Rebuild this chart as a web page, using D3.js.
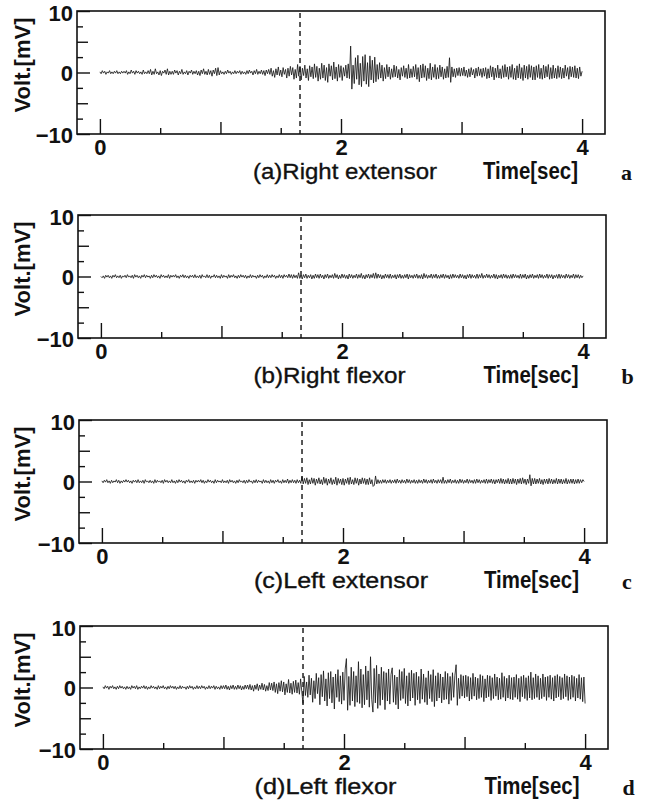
<!DOCTYPE html>
<html><head><meta charset="utf-8">
<script src="https://cdn.jsdelivr.net/npm/d3@7"></script>
<style>body{margin:0;background:#fff}svg{display:block}</style>
</head><body>
<svg id="chart" width="650" height="803"></svg>
<script>
// ---------- data ----------
const sampleStep = 0.01;           // seconds between samples
const onsetTime = 1.66;            // dashed marker [sec]
const xMajorTicks = [0, 2, 4];
const xMidTicks = [1, 3];
const xMinorTicks = [0.5, 1.5, 2.5, 3.5];
const yMajorTicks = [-10, 0, 10];
const yMidTicks = [-5, 5];
const yMinorTicks = [-7.5, -2.5, 2.5, 7.5];
const xTickLabels = ["0", "2", "4"];
const yTickLabels = ["−10", "0", "10"];
const panelCaptions = ["(a)Right extensor", "(b)Right flexor", "(c)Left extensor", "(d)Left flexor"];
const panelLetters = ["a", "b", "c", "d"];
const xTitle = "Time[sec]";
const yTitle = "Volt.[mV]";

const rightExtensor = [
0.1,-0.2,0.3,-0.1,0.2,-0.3,0.1,-0.1,0.3,-0.2,0.1,-0.2,0.2,-0.1,0.3,-0.2,0.1,-0.2,0.2,-0.1,
0.2,-0.1,0.3,-0.3,0.1,-0.2,0.4,-0.1,0.2,-0.3,0.3,-0.1,0.2,-0.2,0.1,-0.3,0.4,-0.2,0.1,-0.2,
0.3,-0.2,0.5,-0.4,0.2,-0.3,0.6,-0.2,0.1,-0.4,0.3,-0.5,0.2,-0.1,0.4,-0.3,0.6,-0.4,0.2,-0.3,
0.2,-0.3,0.4,-0.1,0.3,-0.4,0.2,-0.2,0.5,-0.3,0.1,-0.2,0.3,-0.4,0.2,-0.1,0.4,-0.3,0.2,-0.2,
0.3,-0.4,0.2,-0.5,0.4,-0.2,0.6,-0.3,0.2,-0.4,0.5,-0.3,0.3,-0.6,0.4,-0.2,0.7,-0.5,0.8,-0.4,
0.3,-0.2,0.1,-0.3,0.2,-0.2,0.4,-0.1,0.2,-0.3,0.1,-0.2,0.3,-0.2,0.2,-0.1,0.3,-0.3,0.2,-0.2,
0.1,-0.3,0.3,-0.2,0.4,-0.1,0.2,-0.4,0.3,-0.2,0.5,-0.3,0.2,-0.2,0.4,-0.3,0.3,-0.5,0.4,-0.2,
0.5,-0.3,0.7,-0.6,0.3,-0.8,0.6,-0.4,0.9,-0.5,0.4,-0.7,0.8,-0.3,0.5,-0.9,0.7,-0.6,1.0,-0.4,
0.8,-1.1,0.5,-0.9,1.3,-0.6,1.0,-1.2,0.7,-0.5,1.2,-0.9,0.6,-1.3,1.1,-0.7,0.9,-1.0,1.4,-0.8,
1.0,-1.4,0.7,-1.1,1.5,-0.9,1.2,-1.3,0.8,-1.6,1.4,-0.6,1.1,-1.2,1.7,-1.0,0.9,-1.4,1.3,-0.8,
1.1,-1.3,0.8,-0.6,1.2,-0.9,1.4,-1.0,4.3,-2.7,1.2,-1.8,2.4,-1.1,2.8,-2.0,1.5,-2.3,2.6,-1.4,
2.9,-1.9,1.6,-2.3,2.7,-1.2,2.0,-1.7,2.5,-1.5,1.3,-1.1,1.6,-0.9,1.2,-1.4,0.8,-1.0,1.3,-0.7,
0.9,-1.1,0.6,-0.8,1.2,-0.7,1.0,-0.9,0.5,-1.2,0.8,-0.6,1.1,-0.8,0.7,-1.0,1.3,-0.9,0.6,-0.8,
1.0,-0.7,1.3,-1.1,0.8,-1.5,1.2,-0.9,1.4,-0.8,1.1,-1.3,0.7,-1.0,1.5,-1.2,0.9,-0.8,1.3,-1.1,
0.8,-1.0,1.2,-0.7,0.9,-1.1,0.6,-0.9,1.0,-0.8,2.4,-1.6,0.9,-0.7,0.6,-0.8,0.7,-0.5,0.8,-0.6,
0.7,-0.5,0.9,-0.6,0.4,-0.8,0.6,-0.7,0.8,-0.4,0.5,-0.9,0.7,-0.6,0.9,-0.5,0.6,-0.8,0.7,-0.6,
0.8,-1.0,0.6,-0.9,1.1,-0.7,0.9,-1.2,0.7,-0.8,1.2,-0.9,0.6,-1.0,1.1,-0.8,1.3,-0.7,0.9,-1.1,
1.0,-0.8,1.3,-1.1,0.7,-1.2,1.1,-0.9,1.4,-1.0,0.8,-1.3,1.2,-0.9,1.0,-1.1,1.3,-0.8,1.1,-1.2,
0.9,-1.2,1.1,-0.8,1.3,-1.0,0.7,-1.1,1.2,-0.9,1.0,-0.7,1.3,-1.1,0.8,-1.0,1.2,-0.9,0.7,-1.0,
1.1,-0.8,0.9,-1.0,0.7,-0.9,1.2,-0.6,0.8,-1.1,1.0,-0.7,0.9,-0.8,1.1,-0.9,0.7,-1.0,0.9,-0.6,
0.2];

const rightFlexor = [
0.0,-0.2,0.1,-0.3,0.2,-0.1,0.2,-0.2,0.1,-0.3,0.2,-0.1,0.3,-0.2,0.1,-0.2,0.2,-0.3,0.1,-0.1,
0.2,-0.2,0.3,-0.1,0.1,-0.2,0.2,-0.3,0.3,-0.1,0.2,-0.2,0.1,-0.3,0.2,-0.1,0.3,-0.2,0.2,-0.1,
0.1,-0.3,0.2,-0.2,0.3,-0.1,0.2,-0.2,0.1,-0.3,0.3,-0.1,0.2,-0.2,0.1,-0.2,0.3,-0.3,0.2,-0.1,
0.2,-0.1,0.3,-0.2,0.1,-0.3,0.2,-0.1,0.3,-0.2,0.2,-0.2,0.1,-0.3,0.2,-0.1,0.2,-0.2,0.3,-0.2,
0.1,-0.2,0.2,-0.3,0.3,-0.1,0.1,-0.2,0.3,-0.2,0.2,-0.3,0.1,-0.1,0.3,-0.2,0.2,-0.2,0.1,-0.3,
0.3,-0.2,0.2,-0.1,0.1,-0.3,0.3,-0.2,0.2,-0.1,0.3,-0.2,0.1,-0.3,0.2,-0.2,0.3,-0.1,0.2,-0.2,
0.2,-0.3,0.1,-0.2,0.3,-0.2,0.2,-0.1,0.1,-0.3,0.2,-0.2,0.3,-0.1,0.2,-0.3,0.1,-0.2,0.3,-0.2,
0.2,-0.2,0.3,-0.1,0.2,-0.3,0.1,-0.2,0.3,-0.2,0.2,-0.3,0.3,-0.1,0.2,-0.2,0.4,-0.2,0.3,-0.3,
0.3,-0.2,0.2,-0.3,0.6,-0.3,0.2,-0.4,0.3,-0.2,0.4,-0.3,0.2,-0.2,0.3,-0.4,0.2,-0.3,0.4,-0.2,
0.3,-0.3,0.4,-0.2,0.2,-0.4,0.3,-0.2,0.4,-0.3,0.2,-0.2,0.3,-0.3,0.5,-0.2,0.3,-0.4,0.2,-0.3,
0.4,-0.2,0.3,-0.3,0.2,-0.4,0.4,-0.2,0.3,-0.3,0.2,-0.2,0.4,-0.3,0.3,-0.2,0.5,-0.3,0.2,-0.4,
0.3,-0.2,0.4,-0.3,0.3,-0.2,0.5,-0.3,0.6,-0.3,0.4,-0.2,0.3,-0.4,0.2,-0.3,0.4,-0.2,0.3,-0.3,
0.4,-0.3,0.2,-0.2,0.3,-0.4,0.3,-0.2,0.4,-0.3,0.2,-0.3,0.3,-0.2,0.4,-0.4,0.3,-0.2,0.2,-0.3,
0.3,-0.2,0.4,-0.3,0.2,-0.3,0.3,-0.4,0.5,-0.2,0.3,-0.3,0.2,-0.2,0.4,-0.3,0.3,-0.2,0.4,-0.3,
0.2,-0.3,0.3,-0.2,0.4,-0.3,0.3,-0.2,0.2,-0.4,0.3,-0.3,0.4,-0.2,0.3,-0.2,0.2,-0.3,0.4,-0.2,
0.3,-0.3,0.2,-0.4,0.3,-0.2,0.4,-0.3,0.3,-0.2,0.2,-0.3,0.4,-0.3,0.3,-0.2,0.5,-0.3,0.2,-0.2,
0.4,-0.2,0.3,-0.3,0.2,-0.2,0.4,-0.3,0.3,-0.4,0.2,-0.2,0.3,-0.3,0.4,-0.2,0.3,-0.3,0.2,-0.3,
0.3,-0.3,0.4,-0.2,0.3,-0.2,0.2,-0.3,0.4,-0.3,0.3,-0.2,0.4,-0.4,0.2,-0.3,0.3,-0.2,0.4,-0.3,
0.2,-0.2,0.3,-0.3,0.4,-0.2,0.3,-0.3,0.2,-0.2,0.4,-0.3,0.3,-0.2,0.3,-0.4,0.2,-0.2,0.3,-0.3,
0.4,-0.3,0.3,-0.2,0.2,-0.3,0.4,-0.2,0.3,-0.3,0.2,-0.2,0.4,-0.3,0.3,-0.2,0.3,-0.3,0.2,-0.2,
0.1];

const leftExtensor = [
0.1,-0.2,0.2,-0.1,0.3,-0.2,0.1,-0.3,0.2,-0.2,0.1,-0.1,0.3,-0.2,0.2,-0.3,0.1,-0.2,0.2,-0.1,
0.3,-0.1,0.2,-0.2,0.1,-0.3,0.2,-0.1,0.2,-0.2,0.3,-0.2,0.1,-0.2,0.2,-0.3,0.3,-0.1,0.1,-0.2,
0.2,-0.2,0.1,-0.3,0.3,-0.2,0.2,-0.1,0.1,-0.2,0.2,-0.3,0.3,-0.1,0.2,-0.2,0.1,-0.2,0.3,-0.2,
0.1,-0.3,0.2,-0.2,0.3,-0.1,0.2,-0.2,0.1,-0.3,0.2,-0.1,0.3,-0.2,0.1,-0.2,0.2,-0.3,0.2,-0.1,
0.2,-0.1,0.3,-0.2,0.2,-0.3,0.1,-0.2,0.3,-0.1,0.2,-0.2,0.1,-0.3,0.3,-0.2,0.2,-0.1,0.1,-0.2,
0.3,-0.2,0.1,-0.2,0.2,-0.3,0.3,-0.1,0.2,-0.2,0.1,-0.3,0.2,-0.2,0.3,-0.1,0.1,-0.2,0.2,-0.3,
0.2,-0.2,0.3,-0.1,0.1,-0.3,0.2,-0.2,0.3,-0.2,0.2,-0.1,0.1,-0.3,0.3,-0.2,0.2,-0.2,0.1,-0.3,
0.3,-0.2,0.2,-0.3,0.2,-0.1,0.3,-0.2,0.1,-0.3,0.3,-0.2,0.2,-0.2,0.4,-0.3,0.2,-0.2,0.3,-0.2,
0.2,-0.3,0.3,-0.2,0.2,-0.3,0.8,-0.4,0.5,-0.3,0.6,-0.5,0.3,-0.4,0.6,-0.3,0.5,-0.6,0.4,-0.3,
0.6,-0.4,0.3,-0.5,0.7,-0.3,0.5,-0.6,0.4,-0.3,0.6,-0.5,0.3,-0.4,0.7,-0.6,0.5,-0.3,0.4,-0.5,
0.5,-0.6,0.4,-0.3,0.6,-0.5,0.7,-0.4,0.3,-0.5,0.6,-0.3,0.5,-0.6,0.4,-0.4,0.6,-0.3,0.5,-0.5,
0.4,-0.5,0.6,-0.4,0.3,-0.8,-0.6,0.9,-0.4,0.3,-0.3,0.2,-0.3,0.3,-0.2,0.3,-0.3,0.2,-0.2,0.3,
-0.3,0.2,-0.2,0.3,-0.3,0.4,-0.2,0.2,-0.3,0.3,-0.2,0.2,-0.3,0.4,-0.2,0.3,-0.3,0.2,-0.2,0.3,
-0.3,0.2,-0.3,0.3,-0.2,0.2,-0.3,0.4,-0.2,0.3,-0.3,0.2,-0.2,0.3,-0.3,0.4,-0.2,0.2,-0.3,0.3,
-0.2,0.3,-0.3,0.7,-0.3,0.2,-0.3,0.3,-0.2,0.4,-0.3,0.2,-0.2,0.3,-0.3,0.2,-0.3,0.4,-0.2,0.3,
-0.3,0.2,-0.2,0.4,-0.3,0.3,-0.2,0.2,-0.3,0.3,-0.3,0.4,-0.2,0.3,-0.3,0.2,-0.2,0.3,-0.3,0.4,
-0.3,0.3,-0.2,0.4,-0.3,0.3,-0.4,0.3,-0.2,0.4,-0.3,0.5,-0.3,0.4,-0.4,0.3,-0.3,0.5,-0.4,0.4,
-0.4,0.5,-0.3,0.4,-0.5,0.4,-0.3,0.5,-0.4,0.6,-0.3,0.4,-0.5,0.4,-0.3,1.1,-0.7,0.5,-0.4,0.5,
-0.4,0.4,-0.3,0.5,-0.4,0.3,-0.5,0.4,-0.3,0.4,-0.4,0.5,-0.3,0.4,-0.4,0.3,-0.3,0.5,-0.4,0.4,
-0.3,0.4,-0.4,0.3,-0.3,0.5,-0.4,0.3,-0.3,0.4,-0.3,0.4,-0.4,0.3,-0.3,0.4,-0.3,0.3,-0.2,0.3,
0.0];

const leftFlexor = [
0.1,-0.2,0.3,-0.1,0.2,-0.3,0.2,-0.1,0.3,-0.2,0.1,-0.3,0.2,-0.2,0.3,-0.1,0.2,-0.2,0.1,-0.3,
0.2,-0.2,0.1,-0.3,0.3,-0.1,0.2,-0.2,0.3,-0.3,0.1,-0.2,0.2,-0.1,0.3,-0.2,0.2,-0.3,0.1,-0.2,
0.3,-0.1,0.2,-0.2,0.1,-0.3,0.3,-0.2,0.2,-0.1,0.3,-0.2,0.1,-0.3,0.2,-0.2,0.3,-0.1,0.2,-0.2,
0.2,-0.3,0.1,-0.2,0.3,-0.2,0.2,-0.1,0.1,-0.3,0.2,-0.2,0.3,-0.1,0.2,-0.3,0.1,-0.2,0.3,-0.2,
0.2,-0.2,0.3,-0.1,0.2,-0.3,0.1,-0.2,0.3,-0.2,0.2,-0.1,0.3,-0.3,0.2,-0.2,0.1,-0.3,0.3,-0.2,
0.3,-0.2,0.4,-0.3,0.2,-0.4,0.3,-0.2,0.4,-0.3,0.2,-0.3,0.4,-0.2,0.3,-0.4,0.2,-0.3,0.4,-0.2,
0.4,-0.3,0.5,-0.4,0.3,-0.6,0.4,-0.3,0.6,-0.5,0.4,-0.3,0.7,-0.4,0.5,-0.6,0.3,-0.5,0.8,-0.4,
0.7,-0.5,0.9,-0.8,0.6,-1.0,0.8,-0.6,1.1,-0.7,0.9,-1.2,0.6,-0.8,1.3,-0.9,0.7,-1.1,1.0,-0.8,
1.2,-0.9,0.8,-1.1,1.4,-0.7,-2.6,1.8,-1.3,0.9,-1.6,2.0,-1.2,1.5,-2.4,1.1,-1.8,2.3,-1.0,1.6,
-2.8,2.1,-1.5,2.7,-2.2,1.4,-3.0,2.4,-1.8,2.6,-2.5,1.7,-3.5,2.2,-1.6,2.9,-2.3,1.9,-2.7,2.5,
-2.1,3.0,4.7,-3.7,1.8,-2.9,3.3,-2.2,2.6,-3.1,1.9,-2.4,4.2,-2.6,3.0,-3.3,2.1,-2.8,3.5,-2.0,
2.7,-3.2,5.0,-1.9,-4.0,3.1,-2.5,3.6,-3.4,2.2,-2.9,3.3,-2.0,2.6,-3.6,2.4,-2.2,3.0,-2.7,2.1,
3.2,-2.4,2.0,-2.8,1.7,-3.5,2.9,-2.1,2.6,-1.8,3.1,-2.6,1.9,-3.0,2.4,-2.2,2.8,-1.7,2.3,-2.9,
2.5,-2.0,1.8,-2.6,3.0,-1.9,2.2,-2.4,1.6,-2.8,2.7,-1.8,2.1,-2.3,2.9,-3.1,1.9,-2.2,2.4,-1.7,
2.2,-2.5,1.7,-2.0,2.6,-1.9,2.3,-2.7,1.8,-2.1,2.4,-1.6,2.0,3.7,-2.9,1.5,-1.8,2.1,-1.4,1.9,
-1.7,2.0,-1.5,1.8,-2.2,1.6,-1.9,2.3,-1.4,1.7,-2.0,1.5,-1.8,2.1,-1.6,1.9,-2.3,1.4,-1.7,2.0,
-1.5,1.9,-2.1,1.6,-1.8,2.2,-1.4,1.7,-2.0,1.5,-1.9,2.4,-1.6,1.8,-2.2,1.5,-1.7,2.0,-1.9,1.6,
-2.0,1.7,-1.6,2.1,-1.9,1.5,-2.3,1.8,-1.5,2.0,-1.8,1.6,-2.1,1.9,-1.7,2.5,-2.0,1.6,-1.8,2.2,
-1.6,1.9,-2.0,1.5,-1.8,2.2,-1.5,1.7,-2.1,1.8,-1.6,2.0,-1.9,1.6,-2.2,1.9,-1.7,2.1,-1.5,1.8,
-2.0,1.6,-1.8,2.2,-1.5,1.9,-2.1,1.7,-1.9,2.0,-1.6,1.8,-2.2,1.5,-1.7,2.1,-1.9,1.6,-2.3,1.7,
-2.6];

const seriesList = [rightExtensor, rightFlexor, leftExtensor, leftFlexor];
const captionWidths = [184, 152, 174, 142];

// ---------- layout ----------
const panelTops = [11, 215, 420, 626];
const panelShift = [0, 1, 2, 3];
const plotH = 123;
const xDomain = [-0.19, 4.19];
const sans = "'Liberation Sans', Arial, Helvetica, sans-serif";

const svg = d3.select("#chart");

seriesList.forEach((vals, k) => {
  const top = panelTops[k];
  const x0 = 100 + panelShift[k];
  const x = d3.scaleLinear().domain(xDomain).range([x0 - 23, x0 + 505]);
  const y = d3.scaleLinear().domain([-10, 10]).range([top + plotH, top]);
  const g = svg.append("g");

  const bottomY = y(-10);
  const leftX = x(xDomain[0]);

  function xAxis(values, len, labels) {
    const ax = d3.axisBottom(x).tickValues(values).tickSize(-len)
      .tickFormat((d, i) => labels ? labels[i] : "");
    const a = g.append("g").attr("transform", `translate(0,${bottomY})`).call(ax);
    a.select(".domain").remove();
    a.selectAll("line").attr("stroke", "#111").attr("stroke-width", 1.4);
    a.selectAll("text").attr("y", 21).attr("dy", 0)
      .attr("font-family", sans).attr("font-weight", "bold").attr("font-size", 22).attr("fill", "#111");
  }
  xAxis(xMajorTicks, 15, xTickLabels);
  xAxis(xMidTicks, 12, null);
  xAxis(xMinorTicks, 6, null);

  function yAxis(values, len, labels) {
    const ax = d3.axisLeft(y).tickValues(values).tickSize(-len)
      .tickFormat((d, i) => labels ? labels[i] : "");
    const a = g.append("g").attr("transform", `translate(${leftX},0)`).call(ax);
    a.select(".domain").remove();
    a.selectAll("line").attr("stroke", "#111").attr("stroke-width", 1.4);
    a.selectAll("text").attr("x", -4).attr("dy", d => d === 10 ? "0.44em" : "0.37em")
      .attr("font-family", sans).attr("font-weight", "bold").attr("font-size", 22).attr("fill", "#111");
  }
  yAxis(yMajorTicks, 13, yTickLabels);
  yAxis(yMidTicks, 11, null);
  yAxis(yMinorTicks, 6, null);

  // frame
  g.append("rect")
    .attr("x", leftX).attr("y", y(10))
    .attr("width", x(xDomain[1]) - leftX).attr("height", bottomY - y(10))
    .attr("fill", "none").attr("stroke", "#111").attr("stroke-width", 1.6);

  // onset marker
  g.append("line")
    .attr("x1", x(onsetTime)).attr("x2", x(onsetTime))
    .attr("y1", y(10) + 2).attr("y2", bottomY)
    .attr("stroke", "#111").attr("stroke-width", 1.4).attr("stroke-dasharray", "5,4");

  // signal
  const line = d3.line().x((d, i) => x(i * sampleStep)).y(d => y(d));
  g.append("path").datum(vals).attr("d", line)
    .attr("fill", "none").attr("stroke", "#1a1a1a").attr("stroke-width", 0.85).attr("stroke-linejoin", "round");

  // y title
  g.append("text")
    .attr("transform", `translate(30,${top + 54}) rotate(-90)`)
    .attr("text-anchor", "middle")
    .attr("font-family", sans).attr("font-weight", "bold").attr("font-size", 22).attr("fill", "#111")
    .text(yTitle);

  // captions
  g.append("text").attr("x", 253 + panelShift[k] * 0.5).attr("y", top + 168)
    .attr("font-family", sans).attr("font-size", 22).attr("fill", "#111")
    .attr("stroke", "#111").attr("stroke-width", 0.35)
    .attr("textLength", captionWidths[k]).attr("lengthAdjust", "spacingAndGlyphs")
    .text(panelCaptions[k]);
  g.append("text").attr("x", 483 + panelShift[k] * 0.5).attr("y", top + 168)
    .attr("font-family", sans).attr("font-weight", "bold").attr("font-size", 23).attr("fill", "#111")
    .attr("textLength", 95).attr("lengthAdjust", "spacingAndGlyphs")
    .text(xTitle);
  g.append("text").attr("x", 621 + panelShift[k] * 0.5).attr("y", top + 169)
    .attr("font-family", "'Liberation Serif', 'Times New Roman', serif").attr("font-weight", "bold")
    .attr("font-size", 22).attr("fill", "#111")
    .text(panelLetters[k]);
});
</script>
</body></html>
